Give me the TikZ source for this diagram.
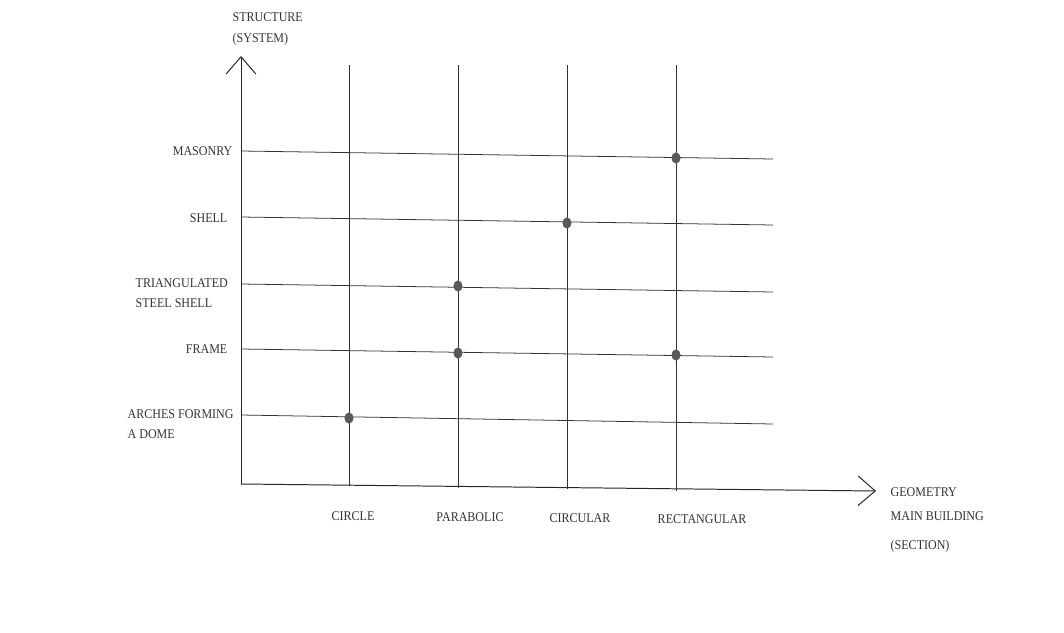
\documentclass[tikz,border=0pt]{standalone}
\usepackage{fontspec}
\setmainfont{Liberation Serif}
\newfontfamily\scanfont[FakeStretch=0.9]{Liberation Serif}
\usepackage{tikz}
\usetikzlibrary{arrows.meta, shapes.geometric}

\begin{document}
\begin{tikzpicture}[x=0.025cm, y=-0.025cm,
  axisline/.style={black!85, line width=0.7pt, -{Straight Barb[length=4.3mm, width=7.4mm, line width=0.7pt]}},
  gridline/.style={black!80, line width=0.55pt},
  dot/.style={ellipse, fill=black!65, inner sep=0pt, minimum width=6.5pt, minimum height=8pt},
  lbl/.style={font=\scanfont\fontsize{9.5}{14}\selectfont, text=black!80, inner sep=1pt}]

\useasboundingbox (0,0) rectangle (1064,632);

% === Axes ===
\coordinate (origin) at (241,484);
\coordinate (ytip) at (241,56);
\coordinate (xtip) at (876,491);
\draw[axisline] (origin) -- (ytip);
\draw[axisline] (origin) -- (xtip);

\node[lbl, anchor=west, align=left, font=\scanfont\fontsize{9.5}{15.5}\selectfont] (ylabel) at (231,29)
     {STRUCTURE\\(SYSTEM)};
\node[lbl, anchor=north west, align=left, font=\scanfont\fontsize{9.5}{17}\selectfont] (xlabel) at (889,486)
     {GEOMETRY\\MAIN BUILDING\\[4pt](SECTION)};

% === Rows: structure ===
\coordinate (masL) at (241,151);   \coordinate (masR) at (773,159);
\coordinate (shlL) at (241,217);   \coordinate (shlR) at (773,225);
\coordinate (triL) at (241,284);   \coordinate (triR) at (773,292);
\coordinate (frmL) at (241,349);   \coordinate (frmR) at (773,357);
\coordinate (arcL) at (241,415);   \coordinate (arcR) at (773,424);
\draw[gridline] (masL) -- (masR);
\draw[gridline] (shlL) -- (shlR);
\draw[gridline] (triL) -- (triR);
\draw[gridline] (frmL) -- (frmR);
\draw[gridline] (arcL) -- (arcR);

\node[lbl, anchor=east] (masonry) at (234,151) {MASONRY};
\node[lbl, anchor=east] (shell) at (229,218) {SHELL};
\node[lbl, anchor=west, align=left] (triang) at (134,293) {TRIANGULATED\\STEEL SHELL};
\node[lbl, anchor=east] (frame) at (229,349) {FRAME};
\node[lbl, anchor=west, align=left] (arches) at (126,424) {ARCHES FORMING\\A DOME};

% === Columns: geometry ===
\coordinate (cirT) at (349,65);   \coordinate (cirB) at (349,486);
\coordinate (parT) at (458,65);   \coordinate (parB) at (458,488);
\coordinate (crcT) at (567,65);   \coordinate (crcB) at (567,489);
\coordinate (recT) at (676,65);   \coordinate (recB) at (676,491);
\draw[gridline] (cirT) -- (cirB);
\draw[gridline] (parT) -- (parB);
\draw[gridline] (crcT) -- (crcB);
\draw[gridline] (recT) -- (recB);

\node[lbl] (circle) at (353,516) {CIRCLE};
\node[lbl] (parabolic) at (470,517) {PARABOLIC};
\node[lbl] (circular) at (580,518) {CIRCULAR};
\node[lbl] (rectangular) at (702,519) {RECTANGULAR};

% === Combinations ===
\node[dot] (masrec) at (676,158) {};
\node[dot] (shlcrc) at (567,223) {};
\node[dot] (tripar) at (458,286) {};
\node[dot] (frmpar) at (458,353) {};
\node[dot] (frmrec) at (676,355) {};
\node[dot] (arccir) at (349,418) {};

\end{tikzpicture}
\end{document}
